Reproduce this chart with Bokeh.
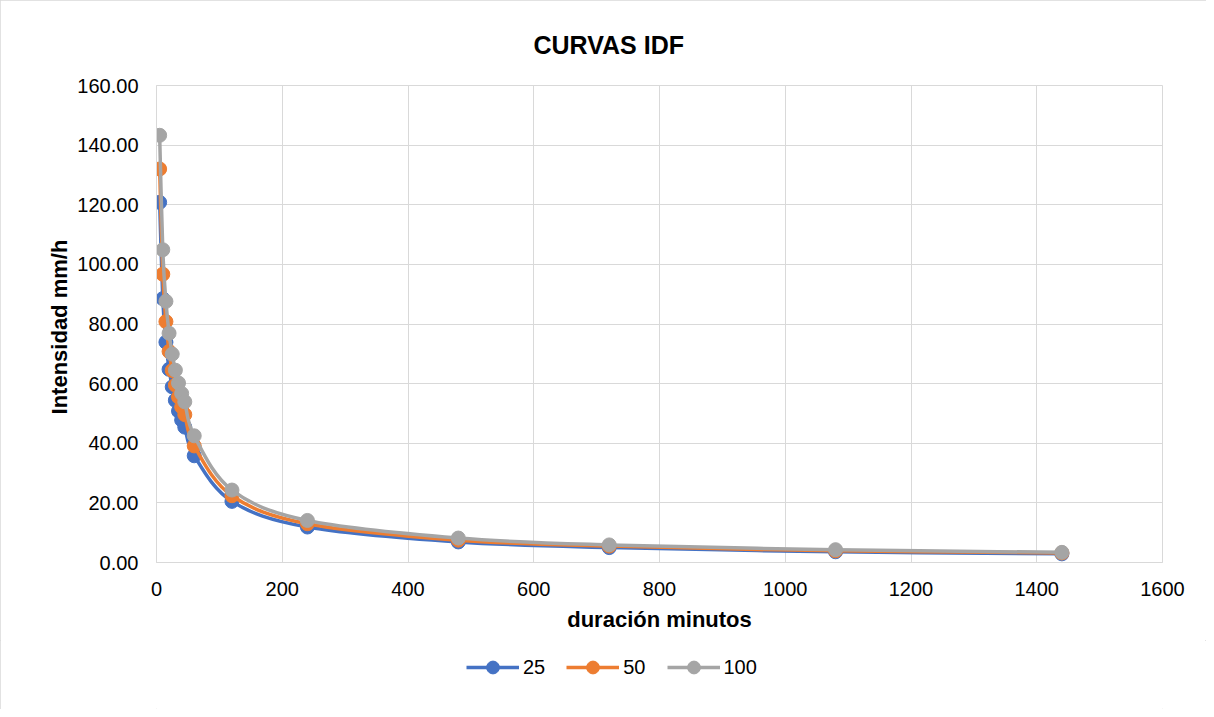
from bokeh.plotting import figure
from bokeh.layouts import column
from bokeh.models import Legend, LegendItem, Range1d, FixedTicker, NumeralTickFormatter, Title
from bokeh.embed import file_html
from bokeh.resources import INLINE

# ---- data ----
duracion = [5, 10, 15, 20, 25, 30, 35, 40, 45, 60, 120, 240, 480, 720, 1080, 1440]
i_25 = [120.8, 88.5, 73.9, 64.8, 58.9, 54.4, 50.8, 47.8, 45.4, 35.8, 20.5, 11.9, 6.9, 5.0, 3.6, 2.9]
i_50 = [132.0, 96.7, 80.8, 70.8, 64.4, 59.5, 55.5, 52.2, 49.6, 39.1, 22.4, 13.0, 7.5, 5.5, 3.9, 3.2]
i_100 = [143.3, 104.9, 87.6, 76.9, 69.9, 64.5, 60.2, 56.7, 53.9, 42.5, 24.3, 14.1, 8.2, 5.9, 4.3, 3.4]
series_names = ["25", "50", "100"]
colors = ["#4472C4", "#ED7D31", "#A5A5A5"]
x_ticks = [0, 200, 400, 600, 800, 1000, 1200, 1400, 1600]
y_ticks = [0, 20, 40, 60, 80, 100, 120, 140, 160]

FONT = "Liberation Sans"
W = 1206

p = figure(width=W, height=640, output_backend="svg", toolbar_location=None,
           x_range=Range1d(0, 1600), y_range=Range1d(0, 160),
           min_border_left=156, min_border_right=44, min_border_top=85, min_border_bottom=78)

p.title = Title(text="CURVAS IDF", align="left", text_font=FONT, text_font_size="25px",
                text_font_style="bold", text_color="black", standoff=54, offset=377)

p.outline_line_color = "#d9d9d9"
p.background_fill_color = "white"
p.border_fill_color = "white"

for ax in (p.xaxis[0], p.yaxis[0]):
    ax.major_tick_line_color = None
    ax.minor_tick_line_color = None
    ax.axis_line_color = "#d9d9d9"
    ax.axis_line_width = 1
    ax.major_label_text_font = FONT
    ax.major_label_text_font_size = "20px"
    ax.major_label_text_color = "black"
    ax.axis_label_text_font = FONT
    ax.axis_label_text_font_size = "22px"
    ax.axis_label_text_font_style = "bold"
    ax.axis_label_text_color = "black"

p.xaxis.major_label_standoff = 13
p.yaxis.major_label_standoff = 12
p.xaxis.ticker = FixedTicker(ticks=x_ticks)
p.yaxis.ticker = FixedTicker(ticks=y_ticks)
p.yaxis.formatter = NumeralTickFormatter(format="0.00")
p.xaxis.axis_label = "duración minutos"
p.yaxis.axis_label = "Intensidad  mm/h"
p.xaxis.axis_label_standoff = 8
p.yaxis.axis_label_standoff = 2

for g in (p.xgrid[0], p.ygrid[0]):
    g.grid_line_color = "#d9d9d9"
    g.grid_line_width = 1
p.xgrid.ticker = FixedTicker(ticks=x_ticks)
p.ygrid.ticker = FixedTicker(ticks=y_ticks)


def smooth_segments(xs, ys):
    """Bezier control points (Catmull-Rom style, like a spreadsheet 'smoothed line')."""
    n = len(xs)
    x0, y0, x1, y1, cx0, cy0, cx1, cy1 = [], [], [], [], [], [], [], []
    for k in range(n - 1):
        pm = k - 1 if k > 0 else k
        pp = k + 2 if k + 2 < n else k + 1
        x0.append(xs[k]); y0.append(ys[k])
        x1.append(xs[k + 1]); y1.append(ys[k + 1])
        cx0.append(xs[k] + (xs[k + 1] - xs[pm]) / 6.0)
        cy0.append(ys[k] + (ys[k + 1] - ys[pm]) / 6.0)
        cx1.append(xs[k + 1] - (xs[pp] - xs[k]) / 6.0)
        cy1.append(ys[k + 1] - (ys[pp] - ys[k]) / 6.0)
    return dict(x0=x0, y0=y0, x1=x1, y1=y1, cx0=cx0, cy0=cy0, cx1=cx1, cy1=cy1)


# legend strip below the chart (its own small figure, renderers hidden)
pl = figure(width=W, height=69, output_backend="svg", toolbar_location=None,
            x_axis_type=None, y_axis_type=None, min_border=0)
pl.outline_line_color = None
pl.xgrid.visible = False
pl.ygrid.visible = False
pl.border_fill_color = "white"
pl.background_fill_color = "white"

items = []
for name, ys, col in zip(series_names, [i_25, i_50, i_100], colors):
    seg = smooth_segments(duracion, ys)
    p.bezier(x0=seg["x0"], y0=seg["y0"], x1=seg["x1"], y1=seg["y1"],
             cx0=seg["cx0"], cy0=seg["cy0"], cx1=seg["cx1"], cy1=seg["cy1"],
             line_color=col, line_width=3.5)
    p.scatter(x=duracion, y=ys, marker="circle", size=14,
              fill_color=col, line_color=col, line_width=1)
    lr = pl.line(x=duracion, y=ys, line_color=col, line_width=3.5, visible=False)
    ls = pl.scatter(x=duracion, y=ys, marker="circle", size=14,
                    fill_color=col, line_color=col, visible=False)
    items.append(LegendItem(label=name, renderers=[lr, ls]))

legend = Legend(items=items, orientation="horizontal", location=(310, 26),
                label_text_font=FONT, label_text_font_size="20px", label_text_color="black",
                glyph_width=53, glyph_height=32, spacing=21, label_standoff=4,
                border_line_color=None, background_fill_alpha=0, margin=0, padding=0,
                inactive_fill_alpha=0)
pl.add_layout(legend, "center")

layout = column(p, pl, spacing=0)
layout.styles = {"outline": "1px solid #d9d9d9", "outline-offset": "-1px"}

open("out.html", "w").write(file_html(layout, INLINE))
